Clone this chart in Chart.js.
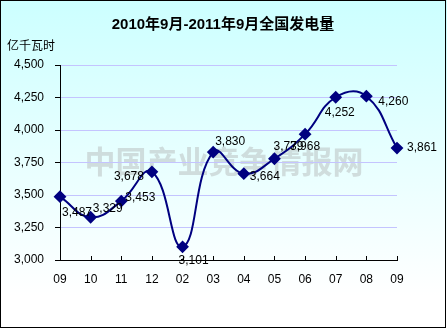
<!DOCTYPE html>
<html>
<head>
<meta charset="utf-8">
<script src="https://cdn.jsdelivr.net/npm/chart.js@4/dist/chart.umd.min.js"></script>
<style>
  html, body { margin: 0; padding: 0; background: #fff; }
  #wrap { width: 447px; height: 329px; }
</style>
</head>
<body>
<div id="wrap"><canvas id="powerChart" width="447" height="329"></canvas></div>
<script>
// ======================
// Dados
// ======================
const meses = ["09", "10", "11", "12", "02", "03", "04", "05", "06", "07", "08", "09"];
const geracao = [3487, 3329, 3453, 3678, 3101, 3830, 3664, 3779, 3968, 4252, 4260, 3861];
const eixoY = [3000, 3250, 3500, 3750, 4000, 4250, 4500];

const titulo = "2010年9月-2011年9月全国发电量";
const unidade = "亿千瓦时";
const marcaDagua = "中国产业竞争情报网";

// deslocamento dos rótulos (estilo, não dados): [dx, dy] em px a partir do ponto
const labelNudge = [
  [2, 16], [2, -9], [4, -3], [-38, 5], [-4, 14], [2, -10],
  [6, 3], [-1, -12], [-15, 13], [-11, 15], [12, 5], [10, 0]
];

const fmt = v => v.toLocaleString("en-US");

// fundo em degradê + borda + títulos + marca d'água
const moldura = {
  id: "moldura",
  beforeDraw(chart) {
    const ctx = chart.ctx;
    const g = ctx.createLinearGradient(0, 0, 0, 329);
    g.addColorStop(0, "#ccffff");
    g.addColorStop(0.9, "#ffffff");
    ctx.save();
    ctx.fillStyle = g;
    ctx.fillRect(0, 0, 447, 329);

    ctx.fillStyle = "#000";
    ctx.textBaseline = "middle";
    ctx.textAlign = "center";
    ctx.font = "bold 15px Arial, 'Noto Sans CJK SC', sans-serif";
    ctx.fillText(titulo, 223, 25);
    ctx.textAlign = "left";
    ctx.font = "12px 'Noto Sans CJK SC', sans-serif";
    ctx.fillText(unidade, 7, 45);

    ctx.textAlign = "center";
    ctx.font = "bold 31px 'Noto Sans CJK SC', sans-serif";
    ctx.fillStyle = "rgba(170,170,170,0.4)";
    ctx.fillText(marcaDagua, 224, 161);

    ctx.strokeStyle = "#000";
    ctx.lineWidth = 1;
    ctx.strokeRect(0.5, 0.5, 445, 327);
    ctx.restore();
  },
  afterDatasetsDraw(chart) {
    const ctx = chart.ctx;
    const xs = chart.scales.x;
    const area = chart.chartArea;
    ctx.save();
    // marcas do eixo X para dentro
    ctx.strokeStyle = "#000";
    ctx.lineWidth = 1;
    xs.ticks.forEach((t, i) => {
      const x = Math.round(xs.getPixelForTick(i)) + 0.5;
      ctx.beginPath();
      ctx.moveTo(x, area.bottom);
      ctx.lineTo(x, area.bottom - 4);
      ctx.stroke();
    });
    // rótulos dos valores
    const meta = chart.getDatasetMeta(0);
    ctx.fillStyle = "#000";
    ctx.font = "12px Arial, sans-serif";
    ctx.textAlign = "left";
    ctx.textBaseline = "middle";
    meta.data.forEach((p, i) => {
      const [dx, dy] = labelNudge[i];
      ctx.fillText(fmt(geracao[i]), p.x + dx, p.y + dy);
    });
    ctx.restore();
  }
};

function carregarGrafico() {
  const ctx = document.getElementById("powerChart").getContext("2d");

  new Chart(ctx, {
    type: "line",
    data: {
      labels: meses,
      datasets: [{
        data: geracao,
        borderColor: "#000080",
        backgroundColor: "#000080",
        borderWidth: 2,
        tension: 0.45,
        pointStyle: "rectRot",
        pointRadius: 5,
        pointHoverRadius: 5,
        clip: false
      }]
    },
    options: {
      responsive: false,
      devicePixelRatio: 1,
      animation: false,
      events: [],
      layout: { padding: { top: 65, right: 50, left: 0, bottom: 0 } },
      plugins: {
        legend: { display: false },
        title: { display: false },
        tooltip: { enabled: false }
      },
      scales: {
        x: {
          offset: false,
          afterFit: s => { s.height = 69; },
          grid: { drawOnChartArea: false, drawTicks: false },
          border: { color: "#000", width: 1 },
          ticks: {
            padding: 12,
            color: "#000",
            font: { family: "Arial", size: 12 },
            maxRotation: 0,
            autoSkip: false
          }
        },
        y: {
          min: eixoY[0],
          max: eixoY[eixoY.length - 1],
          afterFit: s => { s.width = 60; },
          afterBuildTicks: s => { s.ticks = eixoY.map(v => ({ value: v })); },
          grid: {
            color: "#c4c4ff",
            tickColor: "#000",
            tickLength: 5,
            lineWidth: 1
          },
          border: { color: "#000", width: 1 },
          ticks: {
            padding: 11,
            color: "#000",
            font: { family: "Arial", size: 12 },
            callback: v => fmt(v)
          }
        }
      }
    },
    plugins: [moldura]
  });
}

document.addEventListener("DOMContentLoaded", carregarGrafico);
</script>
</body>
</html>
